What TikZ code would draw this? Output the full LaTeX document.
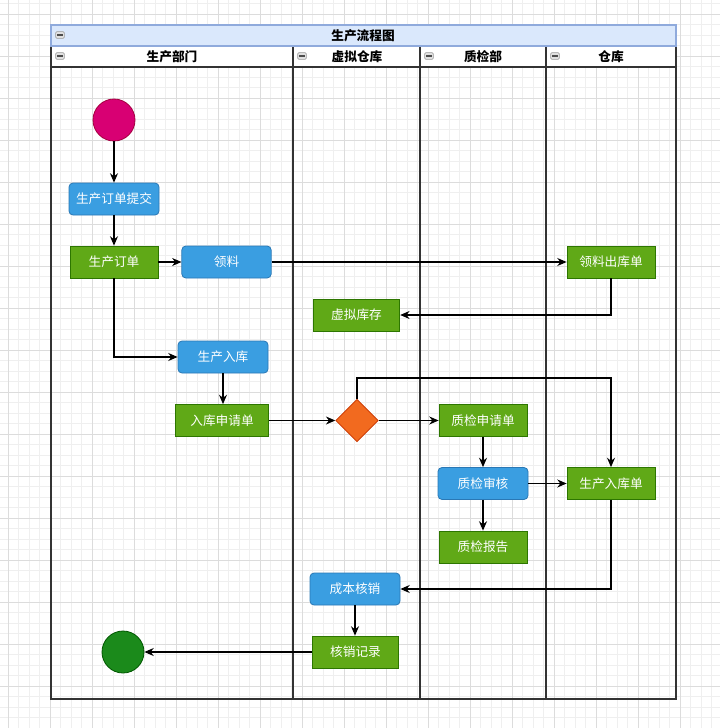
\documentclass[tikz,border=0pt]{standalone}
\usepackage{fontspec}
\setmainfont{Noto Sans CJK SC}
\usetikzlibrary{arrows.meta,shapes.geometric}
\definecolor{gminor}{HTML}{EFEFEF}
\definecolor{gmajor}{HTML}{DCDCDC}
\definecolor{tblue}{HTML}{DAE8FC}
\definecolor{tborder}{HTML}{8FAADC}
\definecolor{nblue}{HTML}{3A9EE1}
\definecolor{nbluedk}{HTML}{2A78B5}
\definecolor{ngreen}{HTML}{60A917}
\definecolor{ngreendk}{HTML}{2D7600}
\definecolor{norange}{HTML}{F26A1F}
\definecolor{norangedk}{HTML}{C73500}
\definecolor{nmag}{HTML}{D80073}
\definecolor{nmagdk}{HTML}{A50040}
\definecolor{nend}{HTML}{1B8A1B}
\definecolor{nenddk}{HTML}{005700}
\definecolor{lanec}{HTML}{333333}
\tikzset{
  gridmin/.style={gminor, line width=0.5pt},
  gridmaj/.style={gmajor, line width=0.6pt},
  lanebox/.style={draw=lanec, line width=0.9pt},
  hdr/.style={font=\bfseries\fontsize{9.5pt}{11pt}\selectfont, inner sep=0pt},
  lbl/.style={text=white, font=\fontsize{9.5pt}{11pt}\selectfont, inner sep=0pt, minimum height=24pt},
  bluebox/.style={lbl, rectangle, rounded corners=3pt, fill=nblue, draw=nbluedk, line width=0.6pt},
  greenbox/.style={lbl, rectangle, fill=ngreen, draw=ngreendk, line width=0.6pt},
  flow/.style={draw=black, line width=0.8pt, -{Stealth[length=7pt,width=6pt]}},
  icon/.style={draw=gray!80, fill=gray!25, rounded corners=0.8pt, minimum width=6.5pt, minimum height=5pt, inner sep=0pt, line width=0.4pt},
}
\newcommand{\mkicon}[2]{\node[icon] (#1) at #2 {};
  \draw[gray!60!black, line width=0.8pt] ([xshift=-2pt]#1.center) -- ([xshift=2pt]#1.center);}
\begin{document}
\begin{tikzpicture}[x=0.75pt,y=-0.75pt]
\useasboundingbox (0,0) rectangle (720,728);
\fill[white] (0,0) rectangle (720,728);
% grid
\foreach \i in {0,...,69} {\draw[gridmin] ({-2.5+10.5*\i},0) -- ({-2.5+10.5*\i},728);}
\foreach \i in {0,...,69} {\draw[gridmin] (0,{3.5+10.5*\i}) -- (720,{3.5+10.5*\i});}
\foreach \i in {0,...,17} {\draw[gridmaj] ({8+42*\i},0) -- ({8+42*\i},728);}
\foreach \i in {0,...,17} {\draw[gridmaj] (0,{14+42*\i}) -- (720,{14+42*\i});}
% pool
\fill[white] (51,46) rectangle (676,67);
\draw[lanebox] (51,46) rectangle (293,699);
\draw[lanebox] (293,46) rectangle (420,699);
\draw[lanebox] (420,46) rectangle (546,699);
\draw[lanebox] (546,46) rectangle (676,699);
\draw[lanebox] (51,67) -- (676,67);
\draw[fill=tblue, draw=tborder, line width=0.8pt] (51,25) rectangle (676,46);
\node[hdr] (title) at (363,36) {生产流程图};
\node[hdr] (h1) at (172,57) {生产部门};
\node[hdr] (h2) at (357,57) {虚拟仓库};
\node[hdr] (h3) at (483,57) {质检部};
\node[hdr] (h4) at (611,57) {仓库};
\mkicon{i0}{(60,35)}
\mkicon{i1}{(60,56)}
\mkicon{i2}{(302,56)}
\mkicon{i3}{(429,56)}
\mkicon{i4}{(555,56)}
% nodes
\node[circle, fill=nmag, draw=nmagdk, line width=0.6pt, minimum size=31.5pt, inner sep=0pt] (start) at (114,120) {};
\node[bluebox, minimum width=67.5pt] (submit) at (114,199) {生产订单提交};
\node[greenbox, minimum width=66pt] (order) at (114,262) {生产订单};
\node[bluebox, minimum width=67pt] (pick) at (226.5,262) {领料};
\node[greenbox, minimum width=66pt] (pickout) at (611,262) {领料出库单};
\node[greenbox, minimum width=65pt] (vstock) at (356.5,315) {虚拟库存};
\node[bluebox, minimum width=67.5pt] (prodin) at (223,357) {生产入库};
\node[greenbox, minimum width=70pt] (inreq) at (222,420.5) {入库申请单};
\node[diamond, fill=norange, draw=norangedk, line width=0.6pt, minimum width=32pt, minimum height=32pt, inner sep=0pt] (dec) at (357,420.5) {};
\node[greenbox, minimum width=66pt] (qcreq) at (483,420.5) {质检申请单};
\node[bluebox, minimum width=67.5pt] (qcaudit) at (483,483.5) {质检审核};
\node[greenbox, minimum width=66pt] (prodbill) at (611,483.5) {生产入库单};
\node[greenbox, minimum width=66pt] (qcreport) at (483,547) {质检报告};
\node[bluebox, minimum width=67.5pt] (cost) at (355,589) {成本核销};
\node[greenbox, minimum width=65pt] (wrec) at (355.5,652) {核销记录};
\node[circle, fill=nend, draw=nenddk, line width=0.6pt, minimum size=31.5pt, inner sep=0pt] (endc) at (123,652) {};
\coordinate (turn) at (611,378);
% edges
\draw[flow] (start) -- (submit);
\draw[flow] (submit) -- (order);
\draw[flow] (order) -- (pick);
\draw[flow] (pick) -- (pickout);
\draw[flow] (pickout.south) |- (vstock.east);
\draw[flow] (order.south) |- (prodin.west);
\draw[flow] (prodin.south) -- (prodin.south |- inreq.north);
\draw[flow] (inreq) -- (dec);
\draw[flow] (dec) -- (qcreq);
\draw[flow] (dec.north) |- (turn) -- (prodbill.north);
\draw[flow] (qcreq) -- (qcaudit);
\draw[flow] (qcaudit) -- (prodbill);
\draw[flow] (qcaudit) -- (qcreport);
\draw[flow] (prodbill.south) |- (cost.east);
\draw[flow] (cost.south) -- (cost.south |- wrec.north);
\draw[flow] (wrec) -- (endc);
\end{tikzpicture}
\end{document}
